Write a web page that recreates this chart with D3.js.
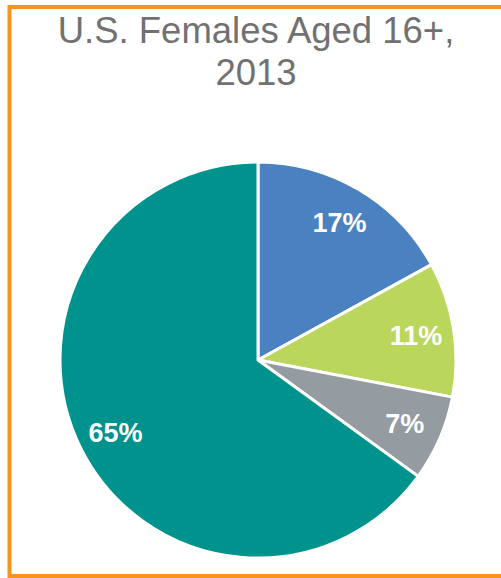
<!DOCTYPE html>
<html>
<head>
<meta charset="utf-8">
<script src="https://cdn.jsdelivr.net/npm/d3@7"></script>
<style>
  html, body { margin: 0; padding: 0; background: #fff; }
  svg { display: block; }
</style>
</head>
<body>
<svg id="chart" width="501" height="578"></svg>
<script>
// Shares of U.S. females aged 16+, 2013 (percent)
const categories = ["A", "B", "C", "D"];
const values = [17, 11, 7, 65];
const labels = ["17%", "11%", "7%", "65%"];
const colors = ["#4a81c0", "#bbd65d", "#949ba1", "#00928c"];
const titleLines = ["U.S. Females Aged 16+,", "2013"];

const svg = d3.select("#chart");

// Frame
svg.append("rect")
  .attr("x", 9.5).attr("y", 7)
  .attr("width", 600).attr("height", 569)
  .attr("fill", "none")
  .attr("stroke", "#f7941d")
  .attr("stroke-width", 4);

// Title
svg.append("text")
  .attr("text-anchor", "middle")
  .attr("font-family", "'Liberation Sans', Arial, sans-serif")
  .attr("font-size", 36.5)
  .attr("fill", "#717171")
  .selectAll("tspan")
  .data(titleLines)
  .join("tspan")
  .attr("x", 256)
  .attr("y", (d, i) => 43 + i * 42)
  .text(d => d);

const cx = 258, cy = 360, R = 198;

const pie = d3.pie().sort(null).value(d => d.value);
const arcs = pie(categories.map((c, i) => ({ cat: c, value: values[i], label: labels[i], color: colors[i] })));

const arc = d3.arc().innerRadius(0).outerRadius(R);
const labelArc = d3.arc().innerRadius(160).outerRadius(160);

const g = svg.append("g").attr("transform", `translate(${cx},${cy})`);

g.selectAll("path")
  .data(arcs)
  .join("path")
  .attr("d", arc)
  .attr("fill", d => d.data.color)
  .attr("stroke", "#fff")
  .attr("stroke-width", 3)
  .attr("stroke-linejoin", "round");

g.selectAll("text")
  .data(arcs)
  .join("text")
  .attr("transform", d => `translate(${labelArc.centroid(d)})`)
  .attr("text-anchor", "middle")
  .attr("dy", "0.36em")
  .attr("font-family", "'Liberation Sans', Arial, sans-serif")
  .attr("font-weight", "bold")
  .attr("font-size", 27)
  .attr("fill", "#fff")
  .text(d => d.data.label);
</script>
</body>
</html>
